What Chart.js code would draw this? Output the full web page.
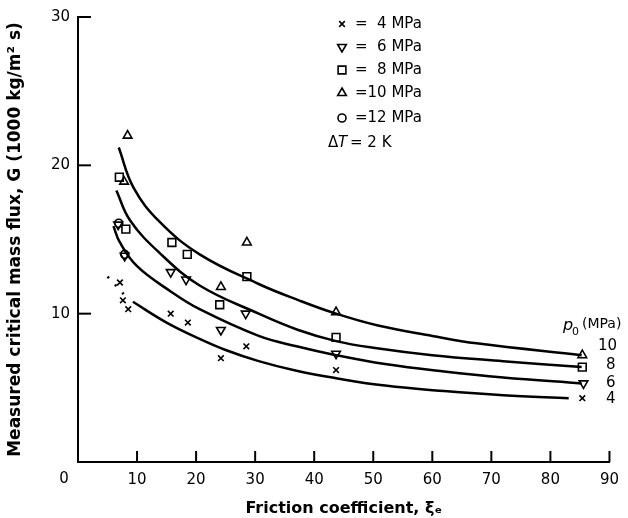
<!DOCTYPE html>
<html>
<head>
<meta charset="utf-8">
<script src="https://cdn.jsdelivr.net/npm/chart.js@4"></script>
<style>
html,body{margin:0;padding:0;background:#fff;}
#wrap{width:628px;height:518px;}
</style>
</head>
<body>
<div id="wrap"><canvas id="c" width="628" height="518"></canvas></div>
<script>
// ---- data ----
const xTickValues = [0,10,20,30,40,50,60,70,80,90];
const yTickValues = [10,20,30];

// measured points
const p4x  = [7.1, 7.6, 8.5, 15.7, 18.6, 24.2, 28.5, 43.7, 85.4];
const p4y  = [12.1, 10.9, 10.3, 10.0, 9.4, 7.0, 7.8, 6.2, 4.3];
const p6x  = [6.8, 7.9, 15.7, 18.3, 24.2, 28.4, 43.7, 85.6];
const p6y  = [16.0, 13.9, 12.8, 12.3, 8.9, 10.0, 7.3, 5.3];
const p8x  = [7.0, 8.1, 15.9, 18.5, 24.0, 28.6, 43.7, 85.4];
const p8y  = [19.2, 15.7, 14.8, 14.0, 10.6, 12.5, 8.4, 6.4];
const p10x = [8.4, 7.8, 24.2, 28.6, 43.7, 85.4];
const p10y = [22.0, 18.9, 11.8, 14.8, 10.1, 7.2];
const p12x = [6.9, 7.9];
const p12y = [16.1, 14.0];

// fitted curves
const c10x = [6.9, 9.4, 13.8, 20.6, 30.6, 37.4, 43.7, 50.8, 60.0, 67.5, 85.3];
const c10y = [21.2, 18.5, 16.2, 14.0, 12.0, 10.9, 10.0, 9.2, 8.5, 8.0, 7.2];
const c8x  = [6.5, 8.8, 13.8, 20.6, 30.6, 37.3, 43.7, 50.0, 60.0, 72.0, 85.3];
const c8y  = [18.3, 16.3, 14.1, 11.9, 10.0, 8.9, 8.15, 7.7, 7.2, 6.8, 6.4];
const c6x  = [6.0, 7.1, 10.0, 15.7, 20.6, 30.6, 37.0, 43.7, 52.0, 62.0, 72.0, 85.3];
const c6y  = [15.9, 14.8, 13.2, 11.5, 10.3, 8.5, 7.8, 7.2, 6.6, 6.1, 5.7, 5.3];
const c4x  = [9.3, 15.0, 20.6, 25.0, 30.6, 37.0, 43.7, 52.0, 62.0, 72.0, 83.1];
const c4y  = [10.8, 9.4, 8.3, 7.55, 6.8, 6.15, 5.65, 5.15, 4.78, 4.5, 4.3];
const c4dashX = [5.0, 8.0];
const c4dashY = [12.5, 11.2];

// text
const legendLabels = ['=  4 MPa', '=  6 MPa', '=  8 MPa', '=10 MPa', '=12 MPa'];
const curveLabels = ['10', '8', '6', '4'];
const xTitle = 'Friction coefficient, \u03BE\u2091';
const yTitle = 'Measured critical mass flux, G (1000 kg/m\u00B2 s)';

// ---- build ----
const zip = (xs, ys) => xs.map((x, i) => ({x: x, y: ys[i]}));
const FONT = '"DejaVu Sans", "Liberation Sans", sans-serif';

function markerSet(label, xs, ys, style, rot, r) {
  return {label: label, type: 'scatter', data: zip(xs, ys), showLine: false,
    pointStyle: style, rotation: rot, pointRadius: r, pointHoverRadius: r,
    pointBorderColor: '#000', pointBackgroundColor: 'rgba(0,0,0,0)', pointBorderWidth: 1.6,
    borderColor: '#000', backgroundColor: 'rgba(0,0,0,0)', clip: false, order: 1};
}
function curveSet(label, xs, ys, dash) {
  return {label: label, type: 'line', data: zip(xs, ys), showLine: true,
    borderColor: '#000', borderWidth: 2.5, pointRadius: 0, pointHoverRadius: 0,
    tension: 0.4, fill: false, borderDash: dash || [],
    clip: false, order: 2};
}

const datasets = [
  markerSet('4 MPa', p4x, p4y, 'crossRot', 0, 4),
  markerSet('6 MPa', p6x, p6y, 'triangle', 180, 5),
  markerSet('8 MPa', p8x, p8y, 'rect', 0, 5.5),
  markerSet('10 MPa', p10x, p10y, 'triangle', 0, 5),
  markerSet('12 MPa', p12x, p12y, 'circle', 0, 4),
  curveSet('curve 10', c10x, c10y),
  curveSet('curve 8', c8x, c8y),
  curveSet('curve 6', c6x, c6y),
  curveSet('curve 4', c4x, c4y),
  curveSet('curve 4 ext', c4dashX, c4dashY, [2, 9])
];

const decor = {
  id: 'decor',
  afterDraw(chart) {
    const ctx = chart.ctx;
    const xs = chart.scales.x, ys = chart.scales.y;
    const ca = chart.chartArea;
    ctx.save();
    ctx.strokeStyle = '#000';
    ctx.lineWidth = 2;
    // inward ticks
    yTickValues.forEach(v => {
      const py = ys.getPixelForValue(v);
      ctx.beginPath(); ctx.moveTo(ca.left, py); ctx.lineTo(ca.left + 13, py); ctx.stroke();
    });
    xTickValues.slice(1).forEach(v => {
      const px = xs.getPixelForValue(v);
      ctx.beginPath(); ctx.moveTo(px, ca.bottom); ctx.lineTo(px, ca.bottom - 11); ctx.stroke();
    });
    // origin label, set left of the axis corner as in the reference
    ctx.fillStyle = '#000';
    ctx.font = '15px ' + FONT;
    ctx.textBaseline = 'middle';
    ctx.textAlign = 'center';
    ctx.fillText(String(xTickValues[0]), xs.getPixelForValue(xTickValues[0]) - 14, ca.bottom + 17);
    ctx.textAlign = 'left';
    // legend
    const styles = [['crossRot',0,4],['triangle',180,5],['rect',0,5.5],['triangle',0,5],['circle',0,4]];
    const rowsY = [24, 47, 70, 93, 118];
    ctx.lineWidth = 1.6;
    legendLabels.forEach((t, i) => {
      const s = styles[i];
      ctx.fillStyle = 'rgba(0,0,0,0)';
      Chart.helpers.drawPoint(ctx, {pointStyle: s[0], rotation: s[1], radius: s[2], borderWidth: 1.6}, 342, rowsY[i]);
      ctx.fillStyle = '#000';
      ctx.font = '15px ' + FONT;
      ctx.fillText(t, 355, rowsY[i]);
    });
    // delta T
    ctx.fillStyle = '#000';
    ctx.font = '15px ' + FONT;
    ctx.fillText('\u0394', 328, 143);
    ctx.font = 'italic 15px ' + FONT;
    ctx.fillText('T', 338, 143);
    ctx.font = '15px ' + FONT;
    ctx.fillText('= 2 K', 350, 143);
    // curve labels at right
    ctx.font = 'italic 16px ' + FONT;
    ctx.fillText('p', 563, 326);
    ctx.font = '11px ' + FONT;
    ctx.fillText('0', 572, 332);
    ctx.font = '14px ' + FONT;
    ctx.fillText('(MPa)', 582, 324);
    ctx.font = '15px ' + FONT;
    const ly = [346, 365, 383, 399];
    curveLabels.forEach((t, i) => {
      ctx.fillText(t, t.length > 1 ? 598 : 606, ly[i]);
    });
    ctx.restore();
  }
};

new Chart(document.getElementById('c'), {
  type: 'scatter',
  data: {datasets: datasets},
  options: {
    responsive: false,
    animation: false,
    devicePixelRatio: 1,
    layout: {padding: {top: 15, right: 13, left: 0, bottom: 0}},
    plugins: {legend: {display: false}, tooltip: {enabled: false}},
    scales: {
      x: {
        type: 'linear', min: 0, max: 90,
        afterFit(s) { s.height = 56; },
        afterBuildTicks(s) { s.ticks = xTickValues.map(v => ({value: v})); },
        grid: {drawOnChartArea: false, drawTicks: false},
        border: {display: true, color: '#000', width: 2},
        ticks: {color: '#000', font: {family: FONT, size: 15}, padding: 9, maxRotation: 0, autoSkip: false,
          callback: v => (v === 0 ? '' : String(v))},
        title: {display: true, text: xTitle, color: '#000', font: {family: FONT, size: 16, weight: 'bold'}, padding: {top: 4, bottom: 0}}
      },
      y: {
        type: 'linear', min: 0, max: 30,
        afterFit(s) { s.width = 78; },
        afterBuildTicks(s) { s.ticks = [0].concat(yTickValues).map(v => ({value: v})); },
        grid: {drawOnChartArea: false, drawTicks: false},
        border: {display: true, color: '#000', width: 2},
        ticks: {color: '#000', font: {family: FONT, size: 15}, padding: 8,
          callback: v => (v === 0 ? '' : String(v))},
        title: {display: true, text: yTitle, color: '#000', font: {family: FONT, size: 17, weight: 'bold'}, padding: {top: 5, bottom: 4}}
      }
    }
  },
  plugins: [decor]
});
</script>
</body>
</html>
